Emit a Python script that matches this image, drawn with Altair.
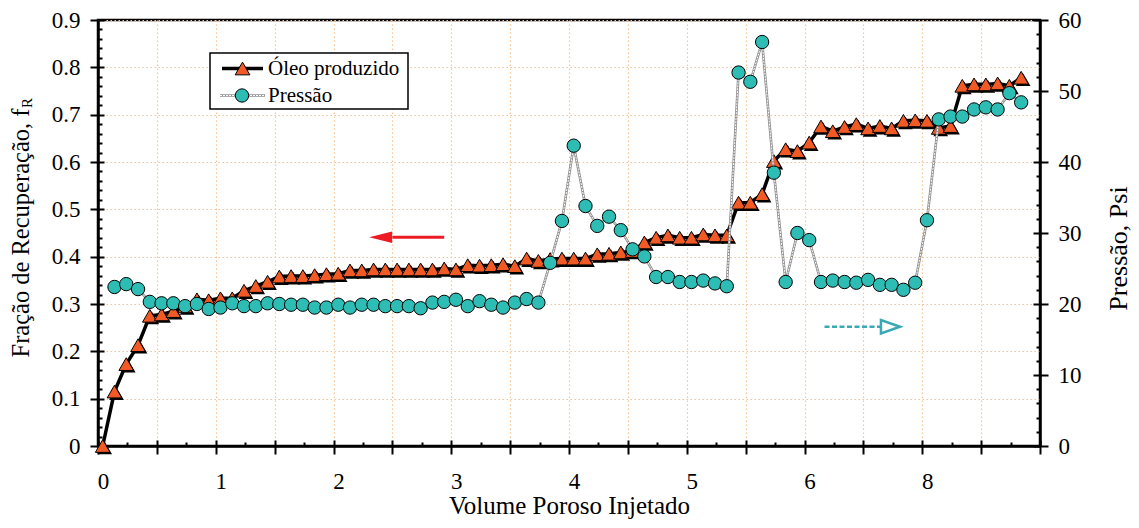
import altair as alt
import pandas as pd

FONT = "Liberation Serif"
ORANGE = "#F15A24"
TEAL = "#2EBDB4"
RED = "#ED1C24"
TEAL_ARROW = "#3AA9B3"
GRID = "#F7C390"

# ---------------- data ----------------
pv = [0.04, 0.14, 0.24, 0.34, 0.44, 0.54, 0.64, 0.74, 0.84, 0.94,
      1.04, 1.14, 1.24, 1.34, 1.44, 1.54, 1.64, 1.74, 1.84, 1.94,
      2.04, 2.14, 2.24, 2.34, 2.44, 2.54, 2.64, 2.74, 2.84, 2.94,
      3.04, 3.14, 3.24, 3.34, 3.44, 3.54, 3.64, 3.74, 3.84, 3.94,
      4.04, 4.14, 4.24, 4.34, 4.44, 4.54, 4.64, 4.74, 4.84, 4.94,
      5.04, 5.14, 5.24, 5.34, 5.44, 5.54, 5.64, 5.74, 5.84, 5.94,
      6.04, 6.14, 6.24, 6.34, 6.44, 6.54, 6.64, 6.74, 6.84, 6.94,
      7.04, 7.14, 7.24, 7.34, 7.44, 7.54, 7.64, 7.74, 7.84]

oleo = [0.0, 0.115, 0.173, 0.213, 0.275, 0.278, 0.285, 0.295, 0.31, 0.308,
        0.312, 0.312, 0.328, 0.338, 0.347, 0.358, 0.359, 0.359, 0.361, 0.363,
        0.364, 0.371, 0.371, 0.373, 0.373, 0.373, 0.373, 0.373, 0.373, 0.375,
        0.373, 0.382, 0.381, 0.382, 0.384, 0.38, 0.396, 0.391, 0.395, 0.396,
        0.396, 0.396, 0.405, 0.406, 0.409, 0.412, 0.43, 0.44, 0.445, 0.44,
        0.44, 0.447, 0.445, 0.445, 0.514, 0.514, 0.532, 0.602, 0.627, 0.623,
        0.641, 0.675, 0.665, 0.674, 0.68, 0.671, 0.676, 0.671, 0.687, 0.688,
        0.687, 0.672, 0.676, 0.761, 0.764, 0.764, 0.766, 0.761, 0.778]

pv_pressao = pv[1:]
pressao = [22.4, 22.8, 22.1, 20.3, 20.1, 20.1, 19.7, 20.0, 19.3, 19.5,
           20.1, 19.7, 19.7, 20.1, 20.0, 19.9, 19.9, 19.5, 19.5, 19.9,
           19.5, 19.9, 19.9, 19.7, 19.7, 19.7, 19.4, 20.2, 20.3, 20.6,
           19.7, 20.4, 19.9, 19.5, 20.2, 20.7, 20.2, 25.8, 31.7, 42.3,
           33.8, 31.0, 32.3, 30.4, 27.7, 26.7, 23.8, 23.8, 23.1, 23.1,
           23.3, 22.9, 22.5, 52.6, 51.3, 56.9, 38.5, 23.1, 30.0, 29.0,
           23.1, 23.3, 23.1, 23.0, 23.4, 22.7, 22.7, 22.0, 23.0, 31.8,
           46.0, 46.4, 46.4, 47.4, 47.7, 47.4, 49.7, 48.4]

# tick labels
x_label_vals = [0, 1, 2, 3, 4, 5, 6, 7]
x_label_text = ["0", "1", "2", "3", "4", "5", "6", "8"]

# annotation arrows (data coordinates)
red_arrow_x1 = [2.50]
red_arrow_x2 = [2.94]
red_arrow_head = [2.40]
red_arrow_y = [0.441]
teal_arrow_x1 = [6.17]
teal_arrow_x2 = [6.65]
teal_arrow_head = [6.73]
teal_arrow_y = [16.8]

# ---------------- tables ----------------
df_oil = pd.DataFrame({"pv": pv, "fr": oleo})
df_p = pd.DataFrame({"pv": pv_pressao, "psi": pressao})
df_red = pd.DataFrame({"x1": red_arrow_x1, "x2": red_arrow_x2, "xh": red_arrow_head, "y": red_arrow_y})
df_teal = pd.DataFrame({"x1": teal_arrow_x1, "x2": teal_arrow_x2, "xh": teal_arrow_head, "y": teal_arrow_y})
one = pd.DataFrame({"a": [0]})

x_major = [i * 0.5 for i in range(17)]
x_minor = [0.25 + 0.5 * i for i in range(16)]
fr_major = [round(0.1 * i, 1) for i in range(10)]
fr_minor = [round(0.02 * i, 2) for i in range(46) if i % 5 != 0]
psi_major = list(range(0, 61, 10))
psi_minor = [v for v in range(0, 61, 2) if v % 10 != 0]

label_expr = "".join(
    f"datum.value == {v} ? '{t}' : " for v, t in zip(x_label_vals, x_label_text)
) + "''"

x_scale = alt.Scale(domain=[0, 8], nice=False, zero=False)
fr_scale = alt.Scale(domain=[0, 0.9], nice=False)
psi_scale = alt.Scale(domain=[0, 60], nice=False)

W, H = 942, 426
TRI = 215
CIR = 178

common_tick = dict(tickColor="black", tickWidth=2)


def inward(orient, values, size, offset):
    return alt.Axis(orient=orient, values=values, tickSize=size, offset=offset,
                    labels=False, domain=False, grid=False, title=None, **common_tick)


x_main_axis = alt.Axis(
    orient="bottom", values=x_major, labelExpr=label_expr, labelOverlap=False,
    labelFlush=False, tickSize=8, domainColor="black", domainWidth=2.5,
    labelFont=FONT, labelFontSize=23, labelColor="black", labelPadding=16,
    labelOffset=5, grid=True, gridColor=GRID, gridDash=[1.5, 2.5], gridWidth=1.2,
    title="Volume Poroso Injetado", titleFont=FONT, titleFontSize=25,
    titleFontWeight="normal", titleColor="black", titleY=67,
    titleBaseline="alphabetic", **common_tick)

y_main_axis = alt.Axis(
    orient="left", values=fr_major, format=".1~f", tickSize=8, domainColor="black",
    domainWidth=2.5, labelFont=FONT, labelFontSize=23, labelColor="black",
    labelPadding=10, labelOverlap=False, labelFlush=False, grid=True,
    gridColor=GRID, gridDash=[1.5, 2.5], gridWidth=1.2,
    title="Fração de Recuperação, f", titleFont=FONT, titleFontSize=24.5,
    titleFontWeight="normal", titleColor="black", titleAngle=270,
    titleAlign="left", titleBaseline="alphabetic", titleX=-70, titleY=337,
    **common_tick)

r_main_axis = alt.Axis(
    orient="right", values=psi_major, tickSize=8, domainColor="black",
    domainWidth=2.5, labelFont=FONT, labelFontSize=23, labelColor="black",
    labelPadding=10, labelOverlap=False, labelFlush=False, grid=False,
    title="Pressão, Psi", titleFont=FONT, titleFontSize=26,
    titleFontWeight="normal", titleColor="black", titleAngle=270,
    titleAlign="center", titleBaseline="alphabetic", titleX=86, titleY=228,
    **common_tick)

# ---------------- layers ----------------
oil_line = alt.Chart(df_oil).mark_line(color="black", strokeWidth=3.5).encode(
    x=alt.X("pv:Q", scale=x_scale, axis=x_main_axis),
    y=alt.Y("fr:Q", scale=fr_scale, axis=y_main_axis))

oil_shadow = alt.Chart(df_oil).mark_point(
    shape="triangle-up", filled=True, color="black", size=TRI, opacity=1,
    xOffset=2, yOffset=2).encode(
    x=alt.X("pv:Q", scale=x_scale, axis=inward("bottom", x_major, 6, -6)),
    y=alt.Y("fr:Q", scale=fr_scale, axis=inward("left", fr_major, 6, -6)))

oil_tri = alt.Chart(df_oil).mark_point(
    shape="triangle-up", filled=True, fill=ORANGE, stroke="black",
    strokeWidth=1, size=TRI, opacity=1).encode(
    x=alt.X("pv:Q", scale=x_scale, axis=inward("bottom", x_minor, 4, -4)),
    y=alt.Y("fr:Q", scale=fr_scale, axis=inward("left", fr_minor, 4, -4)))

p_halo = alt.Chart(df_p).mark_line(color="#8f8f8f", strokeWidth=2.6).encode(
    x=alt.X("pv:Q", scale=x_scale, axis=None),
    y=alt.Y("psi:Q", scale=psi_scale, axis=r_main_axis))

p_core = alt.Chart(df_p).mark_line(color="white", strokeWidth=1.0, strokeDash=[2, 1]).encode(
    x=alt.X("pv:Q", scale=x_scale, axis=None),
    y=alt.Y("psi:Q", scale=psi_scale, axis=inward("right", psi_major, 7, -7)))

p_pts = alt.Chart(df_p).mark_point(
    shape="circle", filled=True, fill=TEAL, stroke="black", strokeWidth=1,
    size=CIR, opacity=1).encode(
    x=alt.X("pv:Q", scale=x_scale, axis=None),
    y=alt.Y("psi:Q", scale=psi_scale, axis=inward("right", psi_minor, 4, -4)))

red_rule = alt.Chart(df_red).mark_rule(color=RED, strokeWidth=3).encode(
    x=alt.X("x1:Q", scale=x_scale, axis=None), x2="x2:Q",
    y=alt.Y("y:Q", scale=fr_scale, axis=None))
red_head = alt.Chart(df_red).mark_point(
    shape="M-1,0L1,-0.5L1,0.5Z", filled=True, color=RED, size=529, opacity=1).encode(
    x=alt.X("xh:Q", scale=x_scale, axis=None),
    y=alt.Y("y:Q", scale=fr_scale, axis=None))

teal_rule = alt.Chart(df_teal).mark_rule(color=TEAL_ARROW, strokeWidth=2.5, strokeDash=[5, 2.5]).encode(
    x=alt.X("x1:Q", scale=x_scale, axis=None), x2="x2:Q",
    y=alt.Y("y:Q", scale=psi_scale, axis=None))
teal_head = alt.Chart(df_teal).mark_point(
    shape="M1,0L-1,-0.7L-1,0.7Z", filled=False, color=TEAL_ARROW, strokeWidth=2.5,
    size=361, opacity=1).encode(
    x=alt.X("xh:Q", scale=x_scale, axis=None),
    y=alt.Y("y:Q", scale=psi_scale, axis=None))

# legend (drawn in plot pixel space)
leg_box = alt.Chart(one).mark_rect(fill="white", stroke="black", strokeWidth=1.5).encode(
    x=alt.value(112), x2=alt.value(310), y=alt.value(33), y2=alt.value(89))
leg_l1 = alt.Chart(one).mark_rule(color="black", strokeWidth=3.5).encode(
    x=alt.value(124), x2=alt.value(165), y=alt.value(48.5))
leg_t1 = alt.Chart(one).mark_point(
    shape="triangle-up", filled=True, fill=ORANGE, stroke="black", strokeWidth=1,
    size=TRI, opacity=1).encode(x=alt.value(144.5), y=alt.value(48.5))
leg_txt1 = alt.Chart(one).mark_text(
    text="Óleo produzido", font=FONT, fontSize=21, color="black", align="left",
    baseline="alphabetic").encode(x=alt.value(170), y=alt.value(54.5))
leg_l2a = alt.Chart(one).mark_rule(color="#8f8f8f", strokeWidth=2.6).encode(
    x=alt.value(122), x2=alt.value(167), y=alt.value(75.5))
leg_l2b = alt.Chart(one).mark_rule(color="white", strokeWidth=1.0, strokeDash=[2, 1]).encode(
    x=alt.value(122), x2=alt.value(167), y=alt.value(75.5))
leg_c2 = alt.Chart(one).mark_point(
    shape="circle", filled=True, fill=TEAL, stroke="black", strokeWidth=1,
    size=CIR, opacity=1).encode(x=alt.value(144), y=alt.value(75.5))
leg_txt2 = alt.Chart(one).mark_text(
    text="Pressão", font=FONT, fontSize=21, color="black", align="left",
    baseline="alphabetic").encode(x=alt.value(170), y=alt.value(82.3))

# subscript R of the left axis title
sub_r = alt.Chart(one).mark_text(
    text="R", font=FONT, fontSize=15, color="black", angle=270, align="left",
    baseline="alphabetic").encode(x=alt.value(-66), y=alt.value(88))

chart = alt.layer(
    oil_line, oil_shadow, oil_tri, p_halo, p_core, p_pts,
    red_rule, red_head, teal_rule, teal_head,
    leg_box, leg_l1, leg_t1, leg_txt1, leg_l2a, leg_l2b, leg_c2, leg_txt2, sub_r,
).resolve_scale(y="independent").resolve_axis(
    x="independent", y="independent"
).properties(
    width=W, height=H,
    padding={"left": 90, "top": 12, "right": 91, "bottom": 74},
    autosize=alt.AutoSizeParams(type="none"),
    background="white",
).configure_view(stroke="black", strokeWidth=2.5)

chart.save("out.html", embed_options={"renderer": "svg", "actions": False})
